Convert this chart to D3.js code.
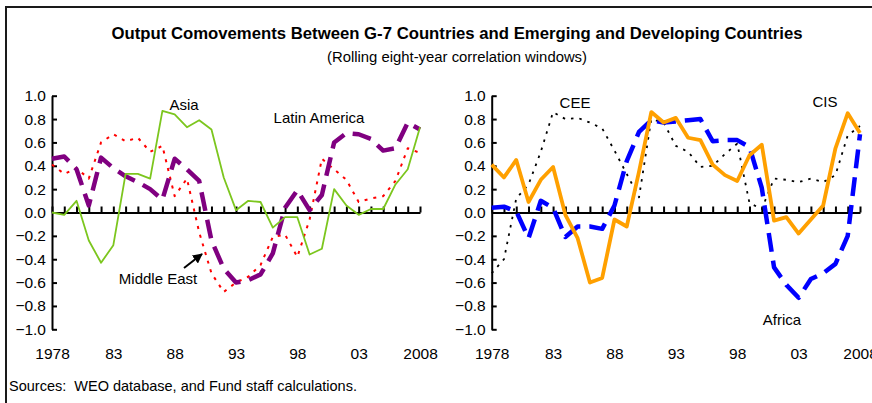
<!DOCTYPE html>
<html>
  <head>
    <meta charset="utf-8">
    <title>Output Comovements Between G-7 Countries and Emerging and Developing Countries</title>
    <script src="https://d3js.org/d3.v7.min.js"></script>
    <style>
      body { margin: 0; background: #fff; }
      text { font-family: "Liberation Sans", Arial, sans-serif; fill: #000; }
    </style>
  </head>
  <body>
    <script>
        var years = d3.range(1978, 2009)
        var xTickYears = [1978, 1983, 1988, 1993, 1998, 2003, 2008]
        var xTickLabels = ["1978", "83", "88", "93", "98", "03", "2008"]
        var yTicks = [1.0, 0.8, 0.6, 0.4, 0.2, 0.0, -0.2, -0.4, -0.6, -0.8, -1.0]

        // left panel
        var asia = [0.00, -0.02, 0.10, -0.24, -0.43, -0.28, 0.33, 0.33, 0.29, 0.87, 0.84, 0.73, 0.79, 0.71, 0.30, 0.02,
                    0.10, 0.09, -0.13, -0.04, -0.04, -0.36, -0.31, 0.20, 0.06, -0.02, 0.03, 0.03, 0.24, 0.37, 0.73]
        var middleEast = [0.41, 0.33, 0.38, 0.29, 0.60, 0.67, 0.61, 0.64, 0.52, 0.57, 0.14, 0.29, -0.17, -0.52, -0.68, -0.60,
                          -0.55, -0.45, -0.21, -0.19, -0.38, -0.06, 0.46, 0.37, 0.28, 0.09, 0.12, 0.14, 0.27, 0.55, 0.51]
        var latinAmerica = [0.46, 0.48, 0.37, 0.06, 0.47, 0.38, 0.31, 0.26, 0.20, 0.11, 0.46, 0.37, 0.27, -0.24, -0.48, -0.60,
                            -0.58, -0.53, -0.35, 0.04, 0.19, 0.02, 0.15, 0.60, 0.68, 0.67, 0.63, 0.53, 0.55, 0.77, 0.71]
        // right panel
        var cee = [-0.52, -0.40, 0.12, 0.24, 0.52, 0.86, 0.80, 0.81, 0.77, 0.72, 0.53, 0.33, 0.13, 0.80, 0.77, 0.57,
                   0.52, 0.39, 0.40, 0.50, 0.59, 0.08, 0.03, 0.29, 0.28, 0.26, 0.29, 0.26, 0.32, 0.66, 0.74]
        var africa = [0.04, 0.05, 0.01, -0.22, 0.10, 0.04, -0.21, -0.12, -0.12, -0.14, 0.06, 0.44, 0.69, 0.79, 0.77, 0.78,
                      0.79, 0.80, 0.61, 0.62, 0.62, 0.56, 0.21, -0.47, -0.62, -0.73, -0.57, -0.52, -0.44, -0.20, 0.67]
        var cis = [0.41, 0.30, 0.45, 0.09, 0.28, 0.39, -0.02, -0.22, -0.60, -0.56, -0.06, -0.12, 0.35, 0.86, 0.77, 0.81,
                   0.64, 0.62, 0.41, 0.32, 0.27, 0.49, 0.58, -0.07, -0.04, -0.18, -0.06, 0.06, 0.55, 0.85, 0.68]

        var W = 872, H = 403

        var svg = d3.select("body").append("svg")
            .attr("width", W)
            .attr("height", H)

        // frame
        svg.append("rect")
            .attr("x", 6).attr("y", 7)
            .attr("width", W + 10).attr("height", H + 10)
            .attr("fill", "none")
            .attr("stroke", "#1a1a1a")
            .attr("stroke-width", 2)

        svg.append("text")
            .attr("x", 457).attr("y", 39)
            .attr("text-anchor", "middle")
            .attr("font-size", "17px")
            .attr("font-weight", "bold")
            .attr("textLength", 691)
            .attr("lengthAdjust", "spacingAndGlyphs")
            .text("Output Comovements Between G-7 Countries and Emerging and Developing Countries")

        svg.append("text")
            .attr("x", 457).attr("y", 62)
            .attr("text-anchor", "middle")
            .attr("font-size", "14px")
            .attr("textLength", 260)
            .attr("lengthAdjust", "spacingAndGlyphs")
            .text("(Rolling eight-year correlation windows)")

        svg.append("text")
            .attr("x", 9).attr("y", 391)
            .attr("font-size", "14.5px")
            .attr("xml:space", "preserve")
            .text("Sources:  WEO database, and Fund staff calculations.")

        var y = d3.scaleLinear().domain([-1, 1]).range([329.3, 95.7])

        function panel(x0, x1, series) {
            var x = d3.scaleLinear().domain([1978, 2008]).range([x0, x1])
            var g = svg.append("g")

            // y axis
            var ya = g.append("g")
                .attr("transform", "translate(" + x0 + ",0)")
                .call(d3.axisLeft(y).tickValues(yTicks).tickFormat(d3.format(".1f"))
                    .tickSize(-5).tickSizeOuter(0).tickPadding(6))
            ya.select(".domain").attr("stroke-width", 2)
            ya.selectAll(".tick line").attr("stroke-width", 2)
            ya.selectAll("text").attr("font-size", "15.5px").attr("font-family", "Liberation Sans, Arial, sans-serif")

            // x axis on zero line
            var xa = g.append("g")
                .attr("transform", "translate(0," + y(0) + ")")
                .call(d3.axisBottom(x).tickValues(years).tickFormat("")
                    .tickSize(-6).tickSizeOuter(0))
            xa.select(".domain").attr("stroke-width", 2)
            xa.selectAll(".tick line").attr("stroke-width", 2)

            // x labels at bottom
            var xl = g.append("g")
                .attr("transform", "translate(0,348)")
                .call(d3.axisBottom(x).tickValues(xTickYears)
                    .tickFormat(function(d, i) { return xTickLabels[i] })
                    .tickSize(0).tickPadding(0))
            xl.select(".domain").remove()
            xl.selectAll("text").attr("font-size", "15.5px").attr("font-family", "Liberation Sans, Arial, sans-serif")

            var line = d3.line()
                .x(function(d, i) { return x(years[i]) })
                .y(function(d) { return y(d) })

            series.forEach(function(s) {
                g.append("path")
                    .datum(s.values)
                    .attr("fill", "none")
                    .attr("stroke", s.color)
                    .attr("stroke-width", s.width)
                    .attr("stroke-dasharray", s.dash)
                    .attr("stroke-linejoin", "round")
                    .attr("d", line)
            })
            return x
        }

        panel(52, 420, [
            {values: middleEast, color: "#ff0000", width: 2, dash: "3,6"},
            {values: latinAmerica, color: "#800080", width: 4.5, dash: "19,9"},
            {values: asia, color: "#7cc61e", width: 1.8, dash: null}
        ])

        panel(491.7, 860, [
            {values: cee, color: "#000000", width: 1.8, dash: "2.5,6"},
            {values: africa, color: "#0000ff", width: 4.5, dash: "19,9"},
            {values: cis, color: "#ffa000", width: 3.8, dash: null}
        ])

        // series labels
        var labels = [
            {t: "Asia", x: 184, y: 110},
            {t: "Latin America", x: 319, y: 123},
            {t: "Middle East", x: 158, y: 284},
            {t: "CEE", x: 575, y: 108},
            {t: "CIS", x: 825, y: 107},
            {t: "Africa", x: 782, y: 325}
        ]
        svg.selectAll(".lbl")
            .data(labels)
            .enter()
            .append("text")
            .attr("class", "lbl")
            .attr("x", function(d) { return d.x })
            .attr("y", function(d) { return d.y })
            .attr("text-anchor", "middle")
            .attr("font-size", "15px")
            .text(function(d) { return d.t })

        // arrow to Middle East line
        svg.append("defs").append("marker")
            .attr("id", "arr")
            .attr("viewBox", "0 0 10 10")
            .attr("refX", 9).attr("refY", 5)
            .attr("markerWidth", 5).attr("markerHeight", 5)
            .attr("orient", "auto")
            .append("path")
            .attr("d", "M0,0 L10,5 L0,10 z")
            .attr("fill", "#000")
        svg.append("line")
            .attr("x1", 184).attr("y1", 268)
            .attr("x2", 202).attr("y2", 254)
            .attr("stroke", "#000")
            .attr("stroke-width", 2)
            .attr("marker-end", "url(#arr)")
    </script>
  </body>
</html>
